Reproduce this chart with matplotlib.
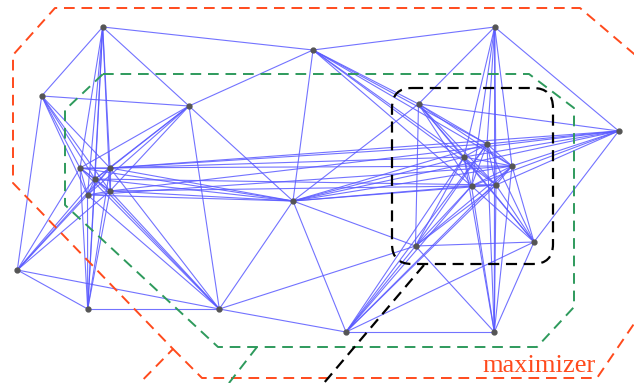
import matplotlib.pyplot as plt
from matplotlib.patches import FancyBboxPatch

# node positions (image coordinates, y grows downward)
node_x = [102.7, 494.7, 313.0, 41.7, 189.0, 418.5, 618.7, 487.0, 464.0, 512.0,
          80.0, 110.0, 95.0, 87.5, 110.0, 471.5, 496.0, 293.0, 415.5, 534.0,
          17.3, 87.7, 219.3, 346.0, 494.3]
node_y = [27.0, 27.0, 50.0, 96.0, 106.0, 104.0, 131.0, 144.0, 157.0, 166.0,
          168.0, 168.0, 179.0, 195.0, 191.0, 186.0, 185.0, 201.0, 246.0, 242.0,
          270.0, 309.0, 309.0, 332.0, 332.0]

left_cluster = [10, 11, 12, 13, 14]
right_cluster = [7, 8, 9, 15, 16]
left_hubs = [0, 3, 4, 20, 21, 22, 17]
right_hubs = [1, 2, 5, 6, 18, 19, 23, 24, 17]

hull_edges = [(0, 2), (2, 1), (1, 6), (6, 19), (19, 24), (24, 23), (23, 22),
              (22, 21), (21, 20), (20, 3), (3, 0)]
inner_edges = [(0, 4), (2, 4), (3, 4), (4, 17), (4, 22), (2, 17), (2, 5),
               (17, 5), (17, 22), (17, 23), (17, 18), (17, 6), (22, 18),
               (23, 19), (18, 5), (18, 19), (18, 24), (18, 23), (20, 22),
               (0, 21), (5, 1), (5, 6), (5, 19), (1, 24)]
cross_edges = [(11, 8), (11, 7), (10, 9), (14, 15), (12, 16), (13, 9),
               (11, 6), (14, 6)]

# dashed region outlines
red_outer_x = [640, 580, 55, 13, 13, 173, 128]
red_outer_y = [59, 8, 8, 55, 183, 349, 395]
red_lower_x = [173, 202, 597, 640]
red_lower_y = [349, 378, 378, 315]
green_x = [103, 529, 574, 574, 537, 218, 65, 65, 103]
green_y = [74, 74, 108, 307, 347, 347, 205, 110, 74]
green_tail_x = [257, 222]
green_tail_y = [347, 392]
box_x0, box_y0, box_x1, box_y1 = 392, 88, 553, 264
black_tail_x = [424, 318]
black_tail_y = [265, 390]

edges = list(hull_edges) + list(inner_edges) + list(cross_edges)
for group, hubs in ((left_cluster, left_hubs), (right_cluster, right_hubs)):
    for i, a in enumerate(group):
        for b in group[i + 1:]:
            edges.append((a, b))
        for h in hubs:
            edges.append((h, a))

fig = plt.figure(figsize=(6.34, 3.83), dpi=100)
ax = fig.add_axes([0, 0, 1, 1])
ax.set_xlim(0, 634)
ax.set_ylim(383, 0)
ax.axis('off')

for a, b in edges:
    ax.plot([node_x[a], node_x[b]], [node_y[a], node_y[b]],
            color='#5a5aff', lw=0.8, alpha=0.85, zorder=1)

red = '#ff4a1c'
ax.plot(red_outer_x, red_outer_y, color=red, lw=1.4, dashes=(5.5, 3.5), zorder=2)
ax.plot(red_lower_x, red_lower_y, color=red, lw=1.4, dashes=(5.5, 3.5), zorder=2)
green = '#2e9a5c'
ax.plot(green_x, green_y, color=green, lw=1.4, dashes=(5.5, 3.5), zorder=2)
ax.plot(green_tail_x, green_tail_y, color=green, lw=1.4, dashes=(5.5, 3.5), zorder=2)

box = FancyBboxPatch((box_x0 + 20, box_y0 + 20), box_x1 - box_x0 - 40,
                     box_y1 - box_y0 - 40, boxstyle='round,pad=20',
                     fill=False, edgecolor='black', lw=1.6,
                     linestyle=(0, (5, 3)), zorder=2)
ax.add_patch(box)
ax.plot(black_tail_x, black_tail_y, color='black', lw=1.6, dashes=(5, 3), zorder=2)

ax.plot(node_x, node_y, 'o', color='#555555', markersize=3.5, zorder=3)

ax.text(596, 372, 'maximizer', color=red, fontsize=19,
        family='Liberation Serif', ha='right', va='baseline', zorder=4)

fig.savefig('out.png', dpi=100)
